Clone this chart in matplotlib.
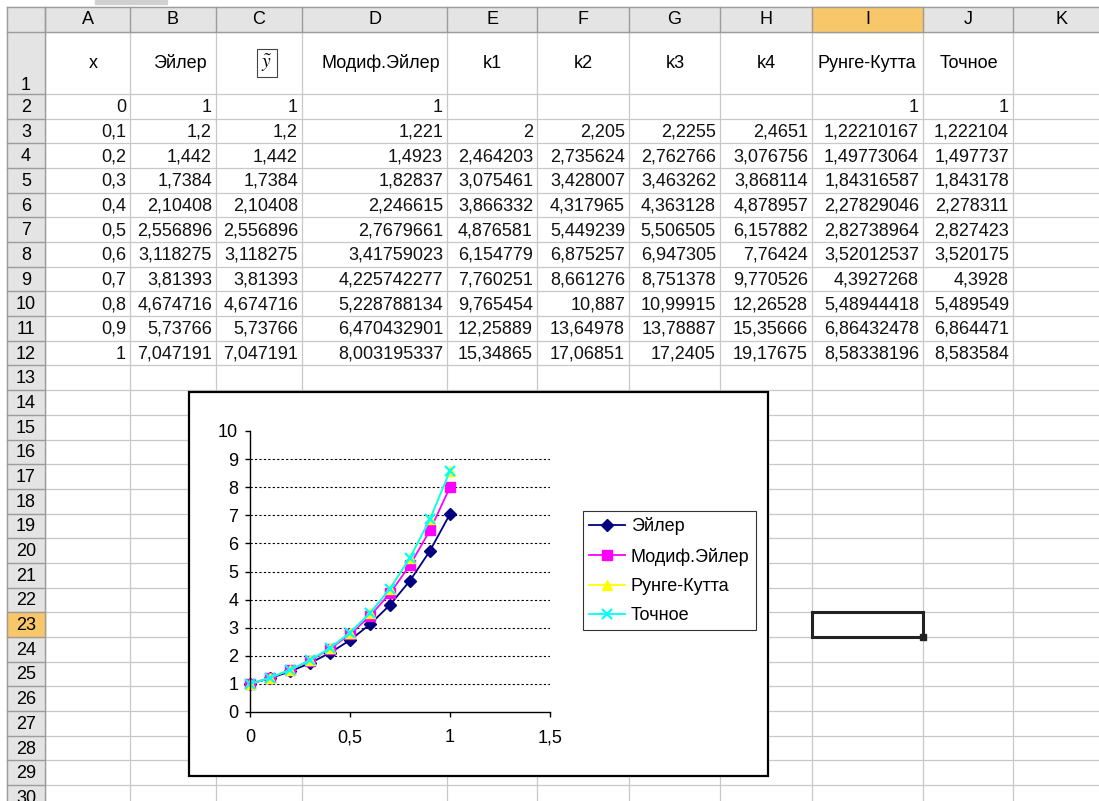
import matplotlib.pyplot as plt
import matplotlib.ticker as ticker
from matplotlib.patches import Rectangle

plt.rcParams['font.family'] = ['Liberation Sans', 'DejaVu Sans']
plt.rcParams['mathtext.fontset'] = 'stix'

# sheet contents, as displayed (comma decimals)
col_letters = ['A', 'B', 'C', 'D', 'E', 'F', 'G', 'H', 'I', 'J', 'K']
headers = ['x', 'Эйлер', r'$\tilde{y}$', 'Модиф.Эйлер', 'k1', 'k2', 'k3', 'k4', 'Рунге-Кутта', 'Точное']
x_vals = ['0', '0,1', '0,2', '0,3', '0,4', '0,5', '0,6', '0,7', '0,8', '0,9', '1']
euler = ['1', '1,2', '1,442', '1,7384', '2,10408', '2,556896', '3,118275', '3,81393',
         '4,674716', '5,73766', '7,047191']
y_tilde = ['1', '1,2', '1,442', '1,7384', '2,10408', '2,556896', '3,118275', '3,81393',
           '4,674716', '5,73766', '7,047191']
modif = ['1', '1,221', '1,4923', '1,82837', '2,246615', '2,7679661', '3,41759023',
         '4,225742277', '5,228788134', '6,470432901', '8,003195337']
k1 = ['', '2', '2,464203', '3,075461', '3,866332', '4,876581', '6,154779', '7,760251',
      '9,765454', '12,25889', '15,34865']
k2 = ['', '2,205', '2,735624', '3,428007', '4,317965', '5,449239', '6,875257', '8,661276',
      '10,887', '13,64978', '17,06851']
k3 = ['', '2,2255', '2,762766', '3,463262', '4,363128', '5,506505', '6,947305', '8,751378',
      '10,99915', '13,78887', '17,2405']
k4 = ['', '2,4651', '3,076756', '3,868114', '4,878957', '6,157882', '7,76424', '9,770526',
      '12,26528', '15,35666', '19,17675']
runge = ['1', '1,22210167', '1,49773064', '1,84316587', '2,27829046', '2,82738964',
         '3,52012537', '4,3927268', '5,48944418', '6,86432478', '8,58338196']
exact = ['1', '1,222104', '1,497737', '1,843178', '2,278311', '2,827423', '3,520175',
         '4,3928', '5,489549', '6,864471', '8,583584']
columns = [x_vals, euler, y_tilde, modif, k1, k2, k3, k4, runge, exact]

x_ticks = [0, 0.5, 1, 1.5]
y_ticks = list(range(11))


def num(s):
    return float(s.replace(',', '.'))


W, H = 1099, 801
fig = plt.figure(figsize=(W / 100, H / 100), dpi=100)
sheet = fig.add_axes([0, 0, 1, 1])
sheet.set_xlim(0, W)
sheet.set_ylim(H, 0)
sheet.axis('off')

# grid geometry in pixels: first edge is the row-header strip
col_edges = [7, 45, 130, 216, 302, 447, 537, 629, 720, 812, 923, 1013, 1110]
row_edges = [32, 94] + [94 + 24.68 * i for i in range(1, 30)]
grid_c = '#c8c8c8'
head_c = '#e4e4e4'
head_line = '#9c9c9c'
sel_c = '#f8c76a'

# cell grid
for x in col_edges[1:]:
    sheet.plot([x, x], [32, H], color=grid_c, lw=0.9, zorder=1)
for y in row_edges[1:]:
    sheet.plot([45, W], [y, y], color=grid_c, lw=0.9, zorder=1)

# headers
sheet.add_patch(Rectangle((0, 0), W, 7, color='white', zorder=2))
sheet.add_patch(Rectangle((95, 0), 72, 4, color='#d0d0d0', zorder=2))
sheet.add_patch(Rectangle((7, 7), W, 25, color=head_c, zorder=2))
sheet.add_patch(Rectangle((7, 32), 38, H, color=head_c, zorder=2))
sheet.add_patch(Rectangle((col_edges[9], 7), col_edges[10] - col_edges[9], 25, color=sel_c, zorder=2))
sheet.add_patch(Rectangle((7, row_edges[22]), 38, row_edges[23] - row_edges[22], color=sel_c, zorder=2))
sheet.plot([7, W], [7, 7], color=head_line, lw=1, zorder=3)
sheet.plot([7, 7], [7, H], color=head_line, lw=1, zorder=3)
sheet.plot([7, W], [32, 32], color=head_line, lw=1, zorder=3)
sheet.plot([45, 45], [7, H], color=head_line, lw=1, zorder=3)
for x in col_edges[1:]:
    sheet.plot([x, x], [7, 32], color=head_line, lw=1, zorder=3)
for y in row_edges[1:]:
    sheet.plot([7, 45], [y, y], color=head_line, lw=1, zorder=3)

for i, letter in enumerate(col_letters):
    xc = (col_edges[i + 1] + col_edges[i + 2]) / 2
    sheet.text(xc, 20, letter, ha='center', va='center', fontsize=13, zorder=4)
sheet.text(26, 86, '1', ha='center', va='center', fontsize=13, zorder=4)
for r in range(2, 31):
    yc = (row_edges[r - 1] + row_edges[r]) / 2 + 1
    sheet.text(26, yc, str(r), ha='center', va='center', fontsize=13, zorder=4)

# row 1 captions
head_x = [93, 180, 267, 381, 492, 583, 675, 766, 867, 969]
for i, label in enumerate(headers):
    if i == 2:
        sheet.text(head_x[i], 63, label, ha='center', va='center', fontsize=14, zorder=4)
        sheet.add_patch(Rectangle((257, 49), 20, 28, fill=False, ec='#444444', lw=0.8, zorder=4))
    else:
        sheet.text(head_x[i], 63, label, ha='center', va='center', fontsize=13, zorder=4)

# numeric cells, right aligned
for c, values in enumerate(columns):
    for r, s in enumerate(values):
        if not s:
            continue
        yc = (row_edges[r + 1] + row_edges[r + 2]) / 2 + 1
        sheet.text(col_edges[c + 2] - 4, yc, s, ha='right', va='center', fontsize=13,
                   color='#111111', zorder=4)

# active cell I23
sel_y0, sel_y1 = row_edges[22], row_edges[23]
sheet.add_patch(Rectangle((col_edges[9], sel_y0), col_edges[10] - col_edges[9], sel_y1 - sel_y0,
                          fill=False, ec='#222222', lw=2.2, zorder=4))
sheet.add_patch(Rectangle((col_edges[10] - 3, sel_y1 - 3), 6, 6, color='#222222', zorder=4))

# chart frame
sheet.add_patch(Rectangle((189, 392), 579, 384, fc='white', ec='black', lw=1.6, zorder=5))

ax = fig.add_axes([250 / W, 1 - 712 / H, 300 / W, 281 / H], zorder=6)
ax.patch.set_alpha(0)
xs = [num(s) for s in x_vals]
ax.set_xlim(0, 1.5)
ax.set_ylim(0, 10)
for s in ['top', 'right']:
    ax.spines[s].set_visible(False)
for s in ['left', 'bottom']:
    ax.spines[s].set_linewidth(1.0)
ax.set_xticks(x_ticks)
ax.set_yticks(y_ticks)
ax.xaxis.set_major_formatter(ticker.FuncFormatter(lambda v, p: ('%g' % v).replace('.', ',')))
ax.tick_params(direction='out', length=3.5, width=1, labelsize=13)
ax.tick_params(axis='y', pad=5)
ax.tick_params(axis='x', pad=9)
ax.hlines(y_ticks[1:-1], 0, 1.5, colors='black', linestyles=(0, (2, 2)), lw=0.8)

ax.plot(xs, [num(s) for s in euler], color='#000080', marker='D', ms=6, lw=1.3,
        clip_on=False, label='Эйлер')
ax.plot(xs, [num(s) for s in modif], color='#ff00ff', marker='s', ms=6.5, lw=1.3,
        clip_on=False, label='Модиф.Эйлер')
ax.plot(xs, [num(s) for s in runge], color='#ffff00', marker='^', ms=7, lw=1.3,
        clip_on=False, label='Рунге-Кутта')
ax.plot(xs, [num(s) for s in exact], color='#00ffff', marker='x', ms=7, mew=1.6, lw=1.3,
        clip_on=False, label='Точное')

leg = ax.legend(loc='upper left', bbox_to_anchor=(583 / W, 1 - 511 / H), bbox_transform=fig.transFigure,
                fontsize=13, frameon=True, fancybox=False, edgecolor='black', borderpad=0.35,
                labelspacing=0.68, handlelength=2.0, handletextpad=0.3, borderaxespad=0)
leg.get_frame().set_linewidth(0.8)

fig.savefig('out.png', dpi=100, facecolor='white')
